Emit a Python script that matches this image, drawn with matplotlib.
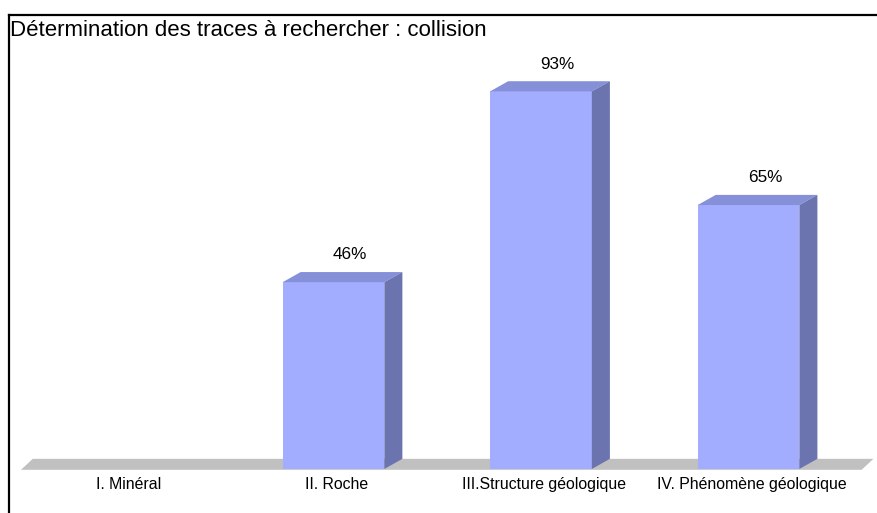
import matplotlib.pyplot as plt
from matplotlib.patches import Polygon
from matplotlib.lines import Line2D

plt.rcParams['font.family'] = ['Liberation Sans', 'DejaVu Sans']

# donnees du graphique
categories = ['I. Minéral', 'II. Roche', 'III.Structure géologique', 'IV. Phénomène géologique']
valeurs = [0, 46, 93, 65]
etiquettes = ['', '46%', '93%', '65%']
titre = 'Détermination des traces à rechercher : collision'

# couleurs facon Excel 3D
c_face = '#A2ADFF'
c_haut = '#8690D8'
c_cote = '#6B74AE'
c_sol = '#C0C0C0'

fig = plt.figure(figsize=(8.78, 5.13), dpi=100)
ax = fig.add_axes([0, 0, 1, 1])
ax.set_xlim(-0.607, 3.624)
ax.set_ylim(-10.84, 115.5)
ax.axis('off')

# profondeur 3D (en unites de donnees)
dx, dy = 0.087, 2.5
larg = 0.49

# sol gris
n = len(categories)
sol_dx = 0.057
ax.add_patch(Polygon([(-0.506, -0.2), (n - 1 + 0.5 + 0.045, -0.2),
                      (n - 1 + 0.5 + 0.045 + sol_dx, dy), (-0.506 + sol_dx, dy)],
                     closed=True, facecolor=c_sol, edgecolor='none'))

for i, (v, lab) in enumerate(zip(valeurs, etiquettes)):
    if v <= 0:
        continue
    x0, x1 = i - larg / 2, i + larg / 2
    # face avant
    ax.add_patch(Polygon([(x0, 0), (x1, 0), (x1, v), (x0, v)],
                         facecolor=c_face, edgecolor='none'))
    # dessus
    ax.add_patch(Polygon([(x0, v), (x1, v), (x1 + dx, v + dy), (x0 + dx, v + dy)],
                         facecolor=c_haut, edgecolor='none'))
    # cote droit
    ax.add_patch(Polygon([(x1, 0), (x1 + dx, dy), (x1 + dx, v + dy), (x1, v)],
                         facecolor=c_cote, edgecolor='none'))
    ax.text(i + 0.08, v + 6.7, lab, ha='center', va='center', fontsize=12.3)

for i, cat in enumerate(categories):
    ax.text(i + 0.015, -3.9, cat, ha='center', va='center', fontsize=11.4)

# cadre (gauche et haut)
fig.add_artist(Line2D([8.5 / 878, 8.5 / 878], [0, 1 - 14.5 / 513],
                      transform=fig.transFigure, color='black', lw=1.6))
fig.add_artist(Line2D([8.5 / 878, 1], [1 - 14.5 / 513, 1 - 14.5 / 513],
                      transform=fig.transFigure, color='black', lw=1.6))

fig.text(10 / 878, 1 - 30 / 513, titre, ha='left', va='center', fontsize=16)

fig.savefig('out.png', dpi=100)
